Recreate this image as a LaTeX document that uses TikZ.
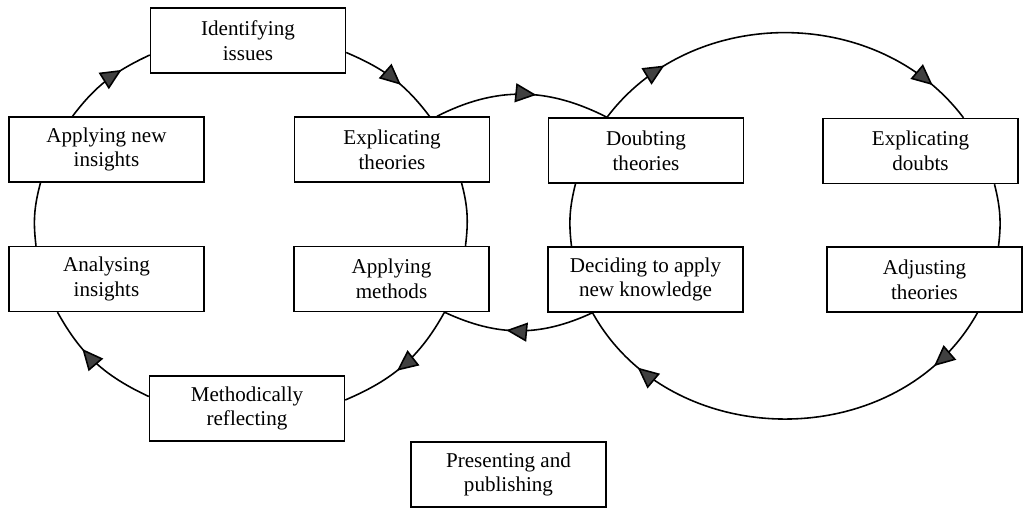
\documentclass[tikz,border=0pt]{standalone}
\usepackage{fontspec}
\setmainfont{Liberation Serif}
\usetikzlibrary{arrows.meta,decorations.markings}
\tikzset{phase/.style={rectangle,draw,line width=0.8pt,fill=white,minimum width=3.9cm,minimum height=1.3cm,inner sep=0pt,align=center,font=\fontsize{12}{14}\selectfont},
         cycle edge/.style={line width=0.9pt},
         arrow at/.style={postaction={decorate,decoration={markings,mark=at position #1 with {\arrow{>}}}}},
}
\begin{document}
\begin{tikzpicture}[>={Triangle[length=4.2mm,width=3.8mm,fill=black!75]},
x=0.02cm, y=0.02cm]
% \draw[help lines] (0,0) grid (1025,508);
\useasboundingbox (0,0) rectangle (1025,508);
% left cycle
\node[phase] (issues) at (248,467.5) {Identifying\\issues};
\node[phase] (newins) at (106.5,358.5) {Applying new\\insights};
\node[phase] (exptheo) at (392,358.5) {Explicating\\theories};
\node[phase] (analys) at (106.5,229) {Analysing\\insights};
\node[phase] (appmeth) at (391.5,229) {Applying\\methods};
\node[phase] (methref) at (247,99.5) {Methodically\\reflecting};
\node[phase] (present) at (508.5,33.5) {Presenting and\\publishing};
% right cycle
\node[phase] (doubt) at (646,357.5) {Doubting\\theories};
\node[phase] (expdoubt) at (920.5,357) {Explicating\\doubts};
\node[phase] (decide) at (645.5,228.5) {Deciding to apply\\new knowledge};
\node[phase] (adjust) at (924.5,228.5) {Adjusting\\theories};

\draw[cycle edge, arrow at=0.68] ([xshift=-6.8mm]newins.north) to[out=53,in=205] ([yshift=-2.9mm]issues.west);
\draw[cycle edge, arrow at=0.6] ([yshift=-2.4mm]issues.east) to[out=-23,in=127] ([xshift=7.5mm]exptheo.north);
\draw[cycle edge] ([xshift=13.9mm]exptheo.south) to[out=-75,in=83] ([xshift=14.8mm]appmeth.north);
\draw[cycle edge, arrow at=0.56] ([xshift=10.6mm]appmeth.south) to[out=241,in=23] ([yshift=1.7mm]methref.east);
\draw[cycle edge, arrow at=0.65] ([yshift=2.4mm]methref.west) to[out=155,in=-61] ([xshift=-9.8mm]analys.south);
\draw[cycle edge] ([xshift=-14.1mm]analys.north) to[out=97,in=255] ([xshift=-13.2mm]newins.south);

\draw[cycle edge, arrow at=0.58] ([xshift=9mm]exptheo.north) to[out=27,in=153] ([xshift=-7.8mm]doubt.north);
\draw[cycle edge, arrow at=0.58] ([xshift=-10.6mm]decide.south) to[out=205,in=-25] ([xshift=10.6mm]appmeth.south);

\draw[cycle edge, arrow at=0.19, arrow at=0.89] ([xshift=-7.8mm]doubt.north) to[out=53,in=127,looseness=1.02] ([xshift=8.6mm]expdoubt.north);
\draw[cycle edge] ([xshift=14.8mm]expdoubt.south) to[out=-76,in=83] ([xshift=14.8mm]adjust.north);
\draw[cycle edge, arrow at=0.15, arrow at=0.845] ([xshift=10.6mm]adjust.south) to[out=241,in=-61,looseness=1.08] ([xshift=-10.6mm]decide.south);
\draw[cycle edge] ([xshift=-14.8mm]decide.north) to[out=97,in=256] ([xshift=-14.1mm]doubt.south);
\end{tikzpicture}
\end{document}
